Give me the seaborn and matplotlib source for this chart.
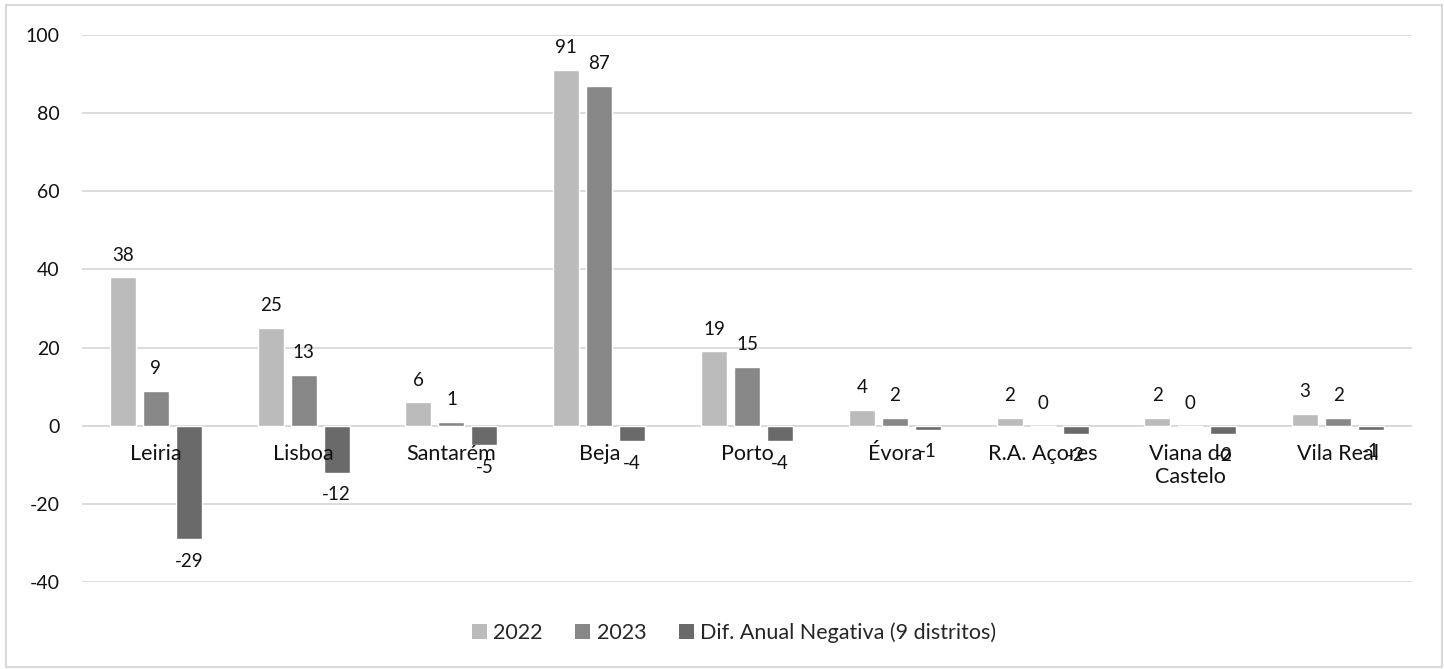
import matplotlib
matplotlib.use("Agg")
import matplotlib.pyplot as plt
from matplotlib.patches import Rectangle, Patch
import seaborn as sns
import pandas as pd

# Districts and yearly values
districts = ["Leiria", "Lisboa", "Santarém", "Beja", "Porto", "Évora",
             "R.A. Açores", "Viana do\nCastelo", "Vila Real"]
values_2022 = [38, 25, 6, 91, 19, 4, 2, 2, 3]
values_2023 = [9, 13, 1, 87, 15, 2, 0, 0, 2]
diff_negative = [-29, -12, -5, -4, -4, -1, -2, -2, -1]
series_names = ["2022", "2023", "Dif. Anual Negativa (9 distritos)"]
y_ticks = [-40, -20, 0, 20, 40, 60, 80, 100]

colors = ["#BBBBBB", "#878787", "#6A6A6A"]

rows = []
for name, vals in zip(series_names, [values_2022, values_2023, diff_negative]):
    for d, v in zip(districts, vals):
        rows.append({"distrito": d, "serie": name, "valor": v})
df = pd.DataFrame(rows)

sns.set_theme(style="white")
plt.rcParams["font.family"] = ["Lato", "DejaVu Sans"]

W, H = 1444, 669
fig = plt.figure(figsize=(W / 100, H / 100), dpi=100)
ax = fig.add_axes([82 / W, (H - 582) / H, (1412 - 82) / W, (582 - 35) / H])

sns.barplot(data=df, x="distrito", y="valor", hue="serie", order=districts,
            hue_order=series_names, palette=colors, width=0.67, gap=0.21,
            saturation=1, legend=False, ax=ax)

ax.set_ylim(-40, 100)
ax.set_xlim(-0.5, len(districts) - 0.5)
ax.set_yticks(y_ticks)
ax.set_yticklabels([str(t) for t in y_ticks], fontsize=14, color="#111111")
ax.tick_params(axis="y", length=0, pad=16)
ax.set_xticks([])
ax.set_xlabel("")
ax.set_ylabel("")
ax.grid(axis="y", color="#D9D9D9", linewidth=1.3)
ax.set_axisbelow(True)
for s in ax.spines.values():
    s.set_visible(False)
ax.axhline(0, color="#D9D9D9", linewidth=1.3, zorder=0.5)

# Value labels above/below each bar
for container, vals in zip(ax.containers, [values_2022, values_2023, diff_negative]):
    for bar, v in zip(container, vals):
        cx = bar.get_x() + bar.get_width() / 2
        off = 16 if v >= 0 else -16
        ax.annotate(str(v), (cx, v), xytext=(0, off), textcoords="offset points",
                    ha="center", va="center", fontsize=13.5, color="#111111")

# Category labels just under the zero line
for i, d in enumerate(districts):
    ax.annotate(d, (i, 0), xytext=(0, -13.5), textcoords="offset points",
                ha="center", va="top", fontsize=15.5, color="#111111",
                linespacing=1.15)

handles = [Patch(facecolor=c, edgecolor="none") for c in colors]
fig.legend(handles, series_names, loc="center", bbox_to_anchor=(734 / W, 1 - 633 / H),
           ncol=3, frameon=False, fontsize=15.5, handlelength=0.7, handleheight=0.7,
           handletextpad=0.3, columnspacing=1.5)

fig.add_artist(Rectangle((6 / W, 2 / H), (1442 - 6) / W, (664 - 2) / H,
                         transform=fig.transFigure, fill=False,
                         edgecolor="#D9D9D9", linewidth=1.5))

fig.savefig("out.png", dpi=100)
